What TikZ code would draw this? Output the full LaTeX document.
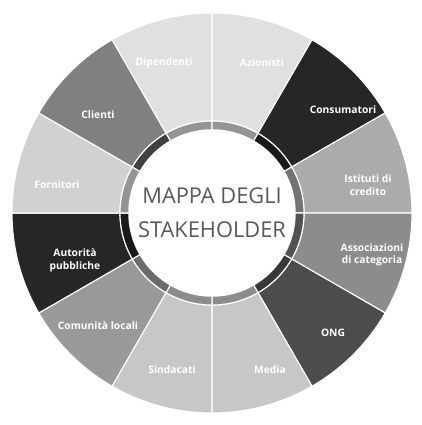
\documentclass[tikz,border=0pt]{standalone}
\usepackage{fontspec}
\setmainfont{Open Sans}
\usepackage{tikz}
\usetikzlibrary{positioning}
\tikzset{
    sector/.style={draw=white, line width=0.8pt},
    lbl/.style={text=white, font=\bfseries\fontsize{7.3}{9}\selectfont, align=center, inner sep=1pt},
    hub/.style={circle, fill=white, minimum size=142*0.025cm, text=black!65, align=center, font=\fontsize{15.5}{24}\selectfont},
}
\begin{document}
\begin{tikzpicture}[x=0.025cm, y=0.025cm, line join=round]
    \useasboundingbox (-212,-212) rectangle (209,213);
    % start angle / fill / inner ring
    \foreach \a/\fc/\rc in {90/black!12/black!42, 60/black!12/black!42, 30/black!85/black!90,
        0/black!33/black!55, -30/black!45/black!68, -60/black!70/black!78,
        -90/black!22/black!45, -120/black!22/black!45, -150/black!40/black!58,
        180/black!85/black!90, 150/black!18/black!42, 120/black!50/black!75}{
        \filldraw[sector, fill=\fc] (\a:92) -- (\a:200) arc[start angle=\a, end angle=\a+30, radius=200]
            -- (\a+30:92) arc[start angle=\a+30, end angle=\a, radius=92] -- cycle;
        \filldraw[sector, fill=\rc] (\a:68) -- (\a:92) arc[start angle=\a, end angle=\a+30, radius=92]
            -- (\a+30:68) arc[start angle=\a+30, end angle=\a, radius=68] -- cycle;
    }
    \node[hub] (mappa) at (0,0) {MAPPA DEGLI\\STAKEHOLDER};
    % labels
    \node[lbl] (dipendenti) at (-48,150) {Dipendenti};
    \node[lbl] (azionisti) at (50,150) {Azionisti};
    \node[lbl] (consumatori) at (131,103) {Consumatori};
    \node[lbl] (istituti) at (156,28) {Istituti di\\credito};
    \node[lbl] (associazioni) at (160,-42) {Associazioni\\di categoria};
    \node[lbl] (ong) at (121,-120) {ONG};
    \node[lbl] (media) at (58,-157) {Media};
    \node[lbl] (sindacati) at (-40,-157) {Sindacati};
    \node[lbl] (comunita) at (-114,-113) {Comunità locali};
    \node[lbl] (autorita) at (-137,-47) {Autorità\\pubbliche};
    \node[lbl] (fornitori) at (-155,28) {Fornitori};
    \node[lbl] (clienti) at (-114,98) {Clienti};
\end{tikzpicture}
\end{document}
